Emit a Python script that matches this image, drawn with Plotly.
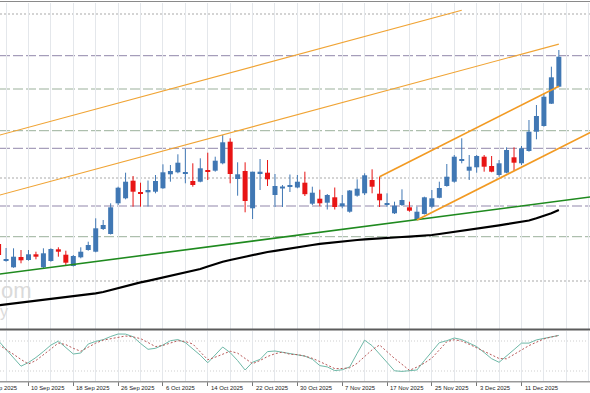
import numpy as np
import plotly.graph_objects as go

# ---------------- data ----------------
dates = [
    "2025-09-04", "2025-09-05", "2025-09-08", "2025-09-09", "2025-09-10", "2025-09-11", "2025-09-12",
    "2025-09-15", "2025-09-16", "2025-09-17", "2025-09-18", "2025-09-19", "2025-09-22", "2025-09-23",
    "2025-09-24", "2025-09-25", "2025-09-26", "2025-09-29", "2025-09-30", "2025-10-01", "2025-10-02",
    "2025-10-03", "2025-10-06", "2025-10-07", "2025-10-08", "2025-10-09", "2025-10-10", "2025-10-13",
    "2025-10-14", "2025-10-15", "2025-10-16", "2025-10-17", "2025-10-20", "2025-10-21", "2025-10-22",
    "2025-10-23", "2025-10-24", "2025-10-27", "2025-10-28", "2025-10-29", "2025-10-30", "2025-10-31",
    "2025-11-03", "2025-11-04", "2025-11-05", "2025-11-06", "2025-11-07", "2025-11-10", "2025-11-11",
    "2025-11-12", "2025-11-13", "2025-11-14", "2025-11-17", "2025-11-18", "2025-11-19", "2025-11-20",
    "2025-11-21", "2025-11-24", "2025-11-25", "2025-11-26", "2025-11-27", "2025-11-28", "2025-12-01",
    "2025-12-02", "2025-12-03", "2025-12-04", "2025-12-05", "2025-12-08", "2025-12-09", "2025-12-10",
    "2025-12-11", "2025-12-12", "2025-12-15", "2025-12-16", "2025-12-17", "2025-12-18",
]

opens = [156.0, 139.3, 132.7, 143.0, 140.0, 145.7, 132.7, 139.0, 150.7, 145.3,
         134.0, 142.7, 150.0, 148.3, 171.0, 166.0, 196.7, 201.7, 219.3, 207.7,
         207.7, 208.3, 211.7, 225.7, 227.7, 226.3, 219.0, 218.3, 230.0, 229.3,
         236.7, 258.3, 221.0, 229.0, 191.7, 226.7, 227.3, 205.0, 211.5, 213.3,
         212.5, 217.3, 196.3, 201.3, 197.3, 202.7, 193.7, 188.3, 204.3, 206.7,
         220.0, 206.3, 195.0, 186.7, 195.0, 192.7, 180.0, 186.0, 193.3, 202.2,
         214.0, 218.3, 239.3, 229.3, 232.7, 243.3, 234.0, 225.0, 227.3, 242.7,
         236.7, 249.0, 268.3, 274.0, 296.3, 313.3]
highs = [158.0, 152.0, 151.7, 150.0, 150.0, 148.3, 151.7, 151.7, 152.7, 149.3,
         145.0, 152.7, 158.3, 181.7, 180.0, 196.7, 213.3, 227.3, 224.0, 217.3,
         219.5, 225.0, 235.7, 235.0, 245.7, 251.7, 236.7, 241.7, 247.3, 243.3,
         265.0, 261.7, 237.7, 237.7, 228.3, 241.0, 240.0, 226.0, 215.0, 225.5,
         225.0, 228.3, 213.3, 210.3, 206.0, 212.5, 205.0, 210.0, 220.7, 226.7,
         230.7, 223.3, 206.7, 198.3, 210.7, 198.3, 193.3, 203.3, 210.0, 218.3,
         236.0, 245.0, 261.7, 245.0, 245.0, 245.0, 244.0, 240.0, 252.7, 252.7,
         254.0, 280.0, 295.0, 306.7, 333.3, 350.0]
lows = [143.0, 138.3, 132.2, 136.7, 139.3, 140.7, 132.0, 138.3, 143.3, 134.0,
        133.5, 141.7, 149.3, 147.7, 170.0, 165.5, 195.0, 200.7, 193.3, 193.3,
        193.5, 206.7, 211.2, 218.3, 226.7, 216.7, 213.3, 217.7, 220.0, 228.3,
        235.7, 216.7, 204.3, 187.7, 181.0, 210.0, 214.0, 193.0, 193.0, 208.0,
        211.7, 204.0, 195.0, 193.5, 190.5, 190.5, 191.7, 187.3, 203.3, 205.0,
        206.7, 193.0, 193.3, 186.0, 194.0, 188.3, 180.0, 185.5, 191.7, 201.7,
        213.3, 217.3, 236.7, 220.0, 227.3, 228.3, 227.7, 223.3, 226.7, 229.3,
        235.0, 248.3, 260.7, 273.3, 296.0, 312.7]
closes = [145.0, 140.7, 143.3, 139.7, 145.7, 143.3, 146.7, 151.0, 148.3, 137.3,
          144.0, 148.3, 155.0, 171.7, 175.0, 192.7, 212.3, 218.3, 208.3, 206.0,
          210.0, 219.0, 227.7, 229.0, 237.3, 228.0, 215.0, 231.7, 228.3, 239.3,
          257.7, 226.0, 225.7, 199.0, 228.3, 228.3, 220.7, 214.0, 213.5, 215.0,
          218.3, 205.8, 207.3, 196.7, 205.0, 193.0, 196.7, 209.5, 211.3, 224.7,
          213.3, 199.7, 196.7, 194.3, 200.0, 189.3, 188.3, 202.7, 201.7, 212.0,
          223.3, 243.3, 240.7, 233.3, 244.0, 233.3, 228.3, 236.7, 250.0, 237.3,
          251.7, 268.3, 284.0, 303.3, 322.7, 343.3]

moving_avg = [94.8, 95.7, 96.6, 97.5, 98.5, 99.3, 100.3, 101.0, 101.8, 102.6,
              103.5, 104.5, 105.6, 106.7, 108.0, 110.0, 112.0, 114.0, 116.0, 117.6,
              119.2, 120.8, 122.4, 124.0, 125.5, 127.2, 129.0, 131.0, 133.5, 136.0,
              138.2, 140.0, 141.7, 143.4, 145.0, 146.5, 148.0, 149.2, 150.5, 151.7,
              152.8, 154.0, 155.0, 156.2, 157.1, 157.8, 158.6, 159.3, 160.0, 160.6,
              161.2, 161.8, 162.3, 162.7, 163.0, 163.4, 163.8, 164.2, 165.0, 166.0,
              167.0, 168.0, 169.0, 170.0, 171.2, 172.4, 173.5, 174.7, 175.8, 177.0,
              178.1, 179.5, 181.7, 184.0, 186.7, 190.0]

stoch_k = [80, 63.4, 44.8, 29.6, 37, 47, 59, 71.8, 79.8, 66.4,
           54, 56, 74, 79.2, 82.6, 89, 94, 93.8, 88.6, 75.2,
           63.4, 65.4, 72, 80.6, 82.8, 76.8, 64.8, 51.6, 36.4, 51.6,
           68, 56.8, 40.8, 22, 37.6, 43.2, 58.8, 60, 57.4, 54.6,
           52.6, 49.8, 43.6, 30.8, 28.2, 20.8, 22.4, 28.2, 55.4, 81.6,
           70.6, 53.8, 36, 20.4, 19.2, 20, 22, 40.8, 59.4, 76.6,
           80.6, 86, 82.8, 76.4, 68.8, 57, 44.6, 37.4, 49.2, 62.8,
           75.8, 75.8, 82.2, 85.2, 88.4, 91.2]
stoch_d = [72.6, 63.6, 53.4, 43, 34, 41, 51.8, 64, 76, 72.8,
           65.4, 59.4, 67.6, 75.8, 81.8, 84.6, 87.2, 90, 88.2, 84.8,
           77, 68.8, 71.2, 76.4, 80.6, 79, 74, 58.2, 42.6, 47.6,
           53.6, 59.6, 55.6, 45.2, 34.6, 41, 49, 54.6, 57.8, 53.4,
           52.8, 49.8, 45.4, 38.8, 32, 24.8, 25, 26.4, 35.4, 49,
           62.4, 72, 58.2, 45.2, 33.4, 21.4, 27.8, 35.8, 45.8, 61.6,
           78.6, 82.6, 79.8, 73.4, 66.8, 59.6, 52.2, 45, 44.4, 53.2,
           62, 70.8, 77.6, 84.2, 88, 91]
stoch_levels = [20, 80]

level_prices = [386.0, 344.3, 311.0, 269.3, 251.7, 222.0, 194.0, 163.3, 119.0]
level_kinds = ["dot", "violet", "green", "green", "violet", "dot", "violet", "green", "dot"]

chan_a_dates = ["2025-09-03", "2025-12-01"]
chan_a_prices = [262.6, 389.7]
chan_b_dates = ["2025-09-03", "2025-12-18"]
chan_b_prices = [202.6, 355.9]
rise_top_dates = ["2025-11-14", "2025-12-18"]
rise_top_prices = [223.3, 313.8]
rise_bot_dates = ["2025-11-21", "2025-12-25"]
rise_bot_prices = [180.0, 270.5]
support_dates = ["2025-09-03", "2025-12-25"]
support_prices = [124.8, 203.8]

tick_dates = ["2025-09-02", "2025-09-10", "2025-09-18", "2025-09-26", "2025-10-06", "2025-10-14",
              "2025-10-22", "2025-10-30", "2025-11-07", "2025-11-17", "2025-11-25", "2025-12-03",
              "2025-12-11"]
tick_labels = ["2 Sep 2025", "10 Sep 2025", "18 Sep 2025", "26 Sep 2025", "6 Oct 2025", "14 Oct 2025",
               "22 Oct 2025", "30 Oct 2025", "7 Nov 2025", "17 Nov 2025", "25 Nov 2025", "3 Dec 2025",
               "11 Dec 2025"]

# ---------------- helpers ----------------
def pos(d):
    return int(np.busday_count(dates[0], d))

xs = [pos(d) for d in dates]
W, H = 590, 393

def py(p):  # pixel row -> paper fraction
    return 1 - p / H

x_lo = (0 + 1.4) / 7.47
x_hi = (W + 1.4) / 7.47

def px_paper(i):  # axis value -> paper fraction (for labels left of the visible range)
    return (i - x_lo) / (x_hi - x_lo)

UP, DOWN = "#4178b4", "#e81515"
GRID = "#e4e7eb"

fig = go.Figure()

# wicks
for up, col in ((True, UP), (False, DOWN)):
    wx, wy = [], []
    for x, o, h, l, c in zip(xs, opens, highs, lows, closes):
        if (c >= o) == up:
            wx += [x, x, None]
            wy += [l, h, None]
    fig.add_trace(go.Scatter(x=wx, y=wy, mode="lines", line=dict(color=col, width=1),
                             hoverinfo="skip", xaxis="x", yaxis="y"))

# bodies
base = [min(o, c) for o, c in zip(opens, closes)]
height = [max(abs(c - o), 1.2) for o, c in zip(opens, closes)]
cols = [UP if c >= o else DOWN for o, c in zip(opens, closes)]
fig.add_trace(go.Bar(x=xs, y=height, base=base, width=0.67, marker=dict(color=cols, line=dict(width=0)),
                     xaxis="x", yaxis="y"))

# moving average
fig.add_trace(go.Scatter(x=xs, y=moving_avg, mode="lines", line=dict(color="#000000", width=2.2),
                         xaxis="x", yaxis="y"))

# support trendline
fig.add_trace(go.Scatter(x=[pos(d) for d in support_dates], y=support_prices, mode="lines",
                         line=dict(color="#1f8a1f", width=1.6), xaxis="x", yaxis="y"))

# wide channel
for dd, pp in ((chan_a_dates, chan_a_prices), (chan_b_dates, chan_b_prices)):
    fig.add_trace(go.Scatter(x=[pos(d) for d in dd], y=pp, mode="lines",
                             line=dict(color="#f0a435", width=1.1), xaxis="x", yaxis="y"))
# rising channel
for dd, pp in ((rise_top_dates, rise_top_prices), (rise_bot_dates, rise_bot_prices)):
    fig.add_trace(go.Scatter(x=[pos(d) for d in dd], y=pp, mode="lines",
                             line=dict(color="#f29a22", width=1.7), xaxis="x", yaxis="y"))

# stochastic
fig.add_trace(go.Scatter(x=xs, y=stoch_k, mode="lines", line=dict(color="#6fb9a8", width=1),
                         xaxis="x2", yaxis="y2"))
fig.add_trace(go.Scatter(x=xs, y=stoch_d, mode="lines", line=dict(color="#b85858", width=1, dash="2px,2px"),
                         xaxis="x2", yaxis="y2"))

# horizontal levels
kind_style = {
    "dot": dict(color="#a9a9a9", width=1, dash="2px,2px"),
    "violet": dict(color="#9187ab", width=1, dash="10px,3px"),
    "green": dict(color="#9bb09b", width=1, dash="10px,3px"),
}
shapes = []
for p, k in zip(level_prices, level_kinds):
    shapes.append(dict(type="line", xref="paper", yref="y", x0=0, x1=1, y0=p, y1=p,
                       line=kind_style[k], layer="below"))
for lv in stoch_levels:
    shapes.append(dict(type="line", xref="paper", yref="y2", x0=0, x1=1, y0=lv, y1=lv,
                       line=dict(color="#cfcfcf", width=1, dash="1px,2px"), layer="below"))
# panel borders
shapes.append(dict(type="line", xref="paper", yref="paper", x0=0, x1=1, y0=py(1.5), y1=py(1.5),
                   line=dict(color="#8a8a8a", width=1)))
shapes.append(dict(type="line", xref="paper", yref="paper", x0=0, x1=1, y0=py(329.5), y1=py(329.5),
                   line=dict(color="#5c5c5c", width=2)))
shapes.append(dict(type="line", xref="paper", yref="paper", x0=0, x1=1, y0=py(381.8), y1=py(381.8),
                   line=dict(color="#999999", width=1.5)))

# date labels (paper-positioned so a partially visible first label is kept)
annotations = []
for d, t in zip(tick_dates, tick_labels):
    annotations.append(dict(x=px_paper(pos(d)), xref="paper", y=py(387.5), yref="paper", text=t,
                            showarrow=False, xanchor="left", yanchor="middle", xshift=1,
                            font=dict(family="Liberation Sans", size=5.9, color="#222222")))
# watermark fragments
annotations.append(dict(x=-0.002, xref="paper", y=py(290), yref="paper", text="om",
                        showarrow=False, xanchor="left", yanchor="middle",
                        font=dict(family="Liberation Sans", size=22, color="#dadada")))
annotations.append(dict(x=-0.004, xref="paper", y=py(311), yref="paper", text="y",
                        showarrow=False, xanchor="left", yanchor="middle",
                        font=dict(family="Liberation Sans", size=16, color="#dadada")))

tick_pos = [pos(d) for d in tick_dates]

fig.update_layout(
    width=W, height=H, margin=dict(l=0, r=0, t=0, b=0),
    paper_bgcolor="white", plot_bgcolor="white", showlegend=False,
    shapes=shapes, annotations=annotations,
    xaxis=dict(domain=[0, 1], range=[x_lo, x_hi], tickmode="linear", tick0=1, dtick=3,
               showgrid=True, gridcolor=GRID, gridwidth=1, showticklabels=False,
               zeroline=False, showline=False, ticks=""),
    yaxis=dict(domain=[py(329), py(3)], range=[71, 397], showgrid=False, showticklabels=False,
               zeroline=False, showline=False),
    xaxis2=dict(domain=[0, 1], range=[x_lo, x_hi], anchor="y2", tickmode="array", tickvals=tick_pos,
                showgrid=True, gridcolor=GRID, showticklabels=False, zeroline=False, showline=False,
                ticks="outside", ticklen=4, tickcolor="#777777", tickwidth=1,
                minor=dict(tickmode="linear", tick0=1, dtick=3, showgrid=True, gridcolor=GRID, ticks="")),
    yaxis2=dict(domain=[py(381), py(331)], range=[0, 100], showgrid=False, showticklabels=False,
                zeroline=False, showline=False),
)

fig.write_html("out.html", config={"displayModeBar": False},
               post_script="document.body.style.margin='0';document.body.style.padding='0';"
                           "document.body.style.overflow='hidden';")
